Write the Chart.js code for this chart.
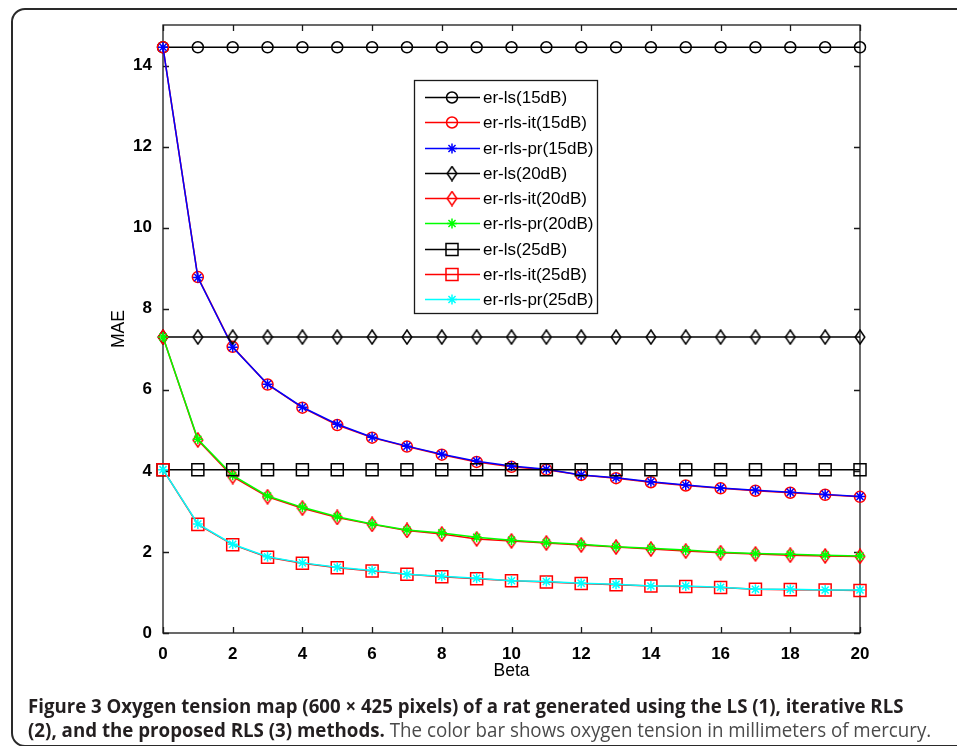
<!DOCTYPE html>
<html lang="en">
<head>
<meta charset="UTF-8">
<title>MAE vs Beta</title>
<style>
    html, body {
        margin: 0;
        padding: 0;
        background: #fff;
    }
    .frame {
        position: relative;
        width: 957px;
        height: 746px;
        overflow: hidden;
    }
    .border {
        position: absolute;
        left: 11px;
        top: 8px;
        width: 1000px;
        height: 739px;
        border: 2px solid #2a2a2a;
        border-radius: 14px;
        box-sizing: border-box;
    }
    #chart {
        position: absolute;
        left: 0;
        top: 0;
    }
    .caption {
        position: absolute;
        left: 28px;
        top: 694px;
        font-family: 'Open Sans', sans-serif;
        font-size: 19.5px;
        line-height: 24px;
        color: #231f20;
    }
    .caption div {
        white-space: nowrap;
        transform-origin: 0 0;
    }
    .caption b { font-weight: 700; }
    .caption span { color: #4a4a4a; font-weight: 400; }
</style>
</head>
<body>
<div class="frame">
    <div class="border"></div>
    <canvas id="chart" width="957" height="746"></canvas>
    <div class="caption">
        <div data-w="899"><b>Figure 3 Oxygen tension map (600 × 425 pixels) of a rat generated using the LS (1), iterative RLS</b></div>
        <div data-w="903"><b>(2), and the proposed RLS (3) methods.</b> <span>The color bar shows oxygen tension in millimeters of mercury.</span></div>
    </div>
</div>

<script src="https://cdn.jsdelivr.net/npm/chart.js"></script>
<script>
    // Data
    const beta = [0, 1, 2, 3, 4, 5, 6, 7, 8, 9, 10, 11, 12, 13, 14, 15, 16, 17, 18, 19, 20];
    const xTicks = [0, 2, 4, 6, 8, 10, 12, 14, 16, 18, 20];
    const yTicks = [0, 2, 4, 6, 8, 10, 12, 14];

    const ls15 = [14.45, 14.45, 14.45, 14.45, 14.45, 14.45, 14.45, 14.45, 14.45, 14.45, 14.45, 14.45, 14.45, 14.45, 14.45, 14.45, 14.45, 14.45, 14.45, 14.45, 14.45];
    const it15 = [14.45, 8.78, 7.06, 6.13, 5.56, 5.13, 4.82, 4.60, 4.40, 4.22, 4.10, 4.03, 3.90, 3.82, 3.72, 3.64, 3.57, 3.51, 3.46, 3.41, 3.36];
    const pr15 = [14.45, 8.77, 7.05, 6.14, 5.57, 5.15, 4.83, 4.61, 4.41, 4.24, 4.12, 4.04, 3.90, 3.83, 3.73, 3.65, 3.58, 3.52, 3.47, 3.42, 3.37];

    const ls20 = [7.30, 7.30, 7.30, 7.30, 7.30, 7.30, 7.30, 7.30, 7.30, 7.30, 7.30, 7.30, 7.30, 7.30, 7.30, 7.30, 7.30, 7.30, 7.30, 7.30, 7.30];
    const it20 = [7.30, 4.76, 3.86, 3.36, 3.08, 2.85, 2.68, 2.53, 2.44, 2.32, 2.27, 2.22, 2.17, 2.12, 2.07, 2.02, 1.98, 1.95, 1.92, 1.90, 1.89];
    const pr20 = [7.30, 4.78, 3.89, 3.38, 3.10, 2.87, 2.69, 2.54, 2.47, 2.36, 2.29, 2.23, 2.19, 2.13, 2.09, 2.05, 1.99, 1.96, 1.94, 1.92, 1.90];

    const ls25 = [4.03, 4.03, 4.03, 4.03, 4.03, 4.03, 4.03, 4.03, 4.03, 4.03, 4.03, 4.03, 4.03, 4.03, 4.03, 4.03, 4.03, 4.03, 4.03, 4.03, 4.03];
    const it25 = [4.03, 2.68, 2.18, 1.87, 1.72, 1.61, 1.53, 1.45, 1.39, 1.34, 1.29, 1.26, 1.22, 1.19, 1.16, 1.15, 1.12, 1.08, 1.07, 1.06, 1.05];
    const pr25 = [4.03, 2.69, 2.19, 1.88, 1.73, 1.62, 1.54, 1.45, 1.40, 1.35, 1.29, 1.27, 1.23, 1.20, 1.16, 1.16, 1.13, 1.08, 1.08, 1.06, 1.06];

    const labels = ['er-ls(15dB)', 'er-rls-it(15dB)', 'er-rls-pr(15dB)',
                    'er-ls(20dB)', 'er-rls-it(20dB)', 'er-rls-pr(20dB)',
                    'er-ls(25dB)', 'er-rls-it(25dB)', 'er-rls-pr(25dB)'];
    const values = [ls15, it15, pr15, ls20, it20, pr20, ls25, it25, pr25];

    // MATLAB style markers
    function makeDiamond(color) {
        const c = document.createElement('canvas');
        c.width = 12;
        c.height = 16;
        const g = c.getContext('2d');
        g.strokeStyle = color;
        g.lineWidth = 1.5;
        g.beginPath();
        g.moveTo(6, 1);
        g.lineTo(10.8, 8);
        g.lineTo(6, 15);
        g.lineTo(1.2, 8);
        g.closePath();
        g.stroke();
        return c;
    }

    const styles = [
        { color: '#000000', marker: 'circle', r: 5.5 },
        { color: '#ff0000', marker: 'circle', r: 5.5 },
        { color: '#0000ff', marker: 'star', r: 5 },
        { color: '#000000', marker: makeDiamond('#000000'), r: 7 },
        { color: '#ff0000', marker: makeDiamond('#ff0000'), r: 7 },
        { color: '#00ff00', marker: 'star', r: 5 },
        { color: '#000000', marker: 'rect', r: 8.5 },
        { color: '#ff0000', marker: 'rect', r: 8.5 },
        { color: '#00ffff', marker: 'star', r: 5 }
    ];

    const datasets = values.map((vals, i) => ({
        label: labels[i],
        data: beta.map((b, j) => ({ x: b, y: vals[j] })),
        borderColor: styles[i].color,
        backgroundColor: 'transparent',
        borderWidth: 1.5,
        pointStyle: styles[i].marker,
        pointRadius: styles[i].r,
        pointBorderColor: styles[i].color,
        pointBackgroundColor: 'transparent',
        pointBorderWidth: 1.5,
        tension: 0,
        clip: false,
        order: values.length - i   // later series on top, like MATLAB
    }));

    const FONT = "'Liberation Sans', Arial, sans-serif";

    // axes box, inward ticks and axis titles
    const axesBox = {
        id: 'axesBox',
        beforeDatasetsDraw(chart) {
            const { ctx, chartArea: a, scales } = chart;
            ctx.save();
            ctx.strokeStyle = '#1a1a1a';
            ctx.lineWidth = 1.3;
            ctx.strokeRect(a.left, a.top, a.right - a.left, a.bottom - a.top);
            ctx.beginPath();
            xTicks.forEach(v => {
                const px = Math.round(scales.x.getPixelForValue(v)) + 0.5;
                ctx.moveTo(px, a.bottom); ctx.lineTo(px, a.bottom - 6);
                ctx.moveTo(px, a.top); ctx.lineTo(px, a.top + 6);
            });
            yTicks.forEach(v => {
                const py = Math.round(scales.y.getPixelForValue(v)) + 0.5;
                ctx.moveTo(a.left, py); ctx.lineTo(a.left + 6, py);
                ctx.moveTo(a.right, py); ctx.lineTo(a.right - 6, py);
            });
            ctx.stroke();

            ctx.fillStyle = '#000';
            ctx.font = '17.5px ' + FONT;
            ctx.textAlign = 'center';
            ctx.textBaseline = 'middle';
            ctx.fillText('Beta', (a.left + a.right) / 2, 671);
            ctx.translate(119, (a.top + a.bottom) / 2);
            ctx.rotate(-Math.PI / 2);
            ctx.fillText('MAE', 0, 0);
            ctx.restore();
        }
    };

    // legend box inside the axes, MATLAB style
    const boxLegend = {
        id: 'boxLegend',
        afterDraw(chart) {
            const ctx = chart.ctx;
            const x0 = 414, y0 = 80, w = 183, h = 233;
            ctx.save();
            ctx.fillStyle = '#fff';
            ctx.fillRect(x0, y0, w, h);
            ctx.strokeStyle = '#1a1a1a';
            ctx.lineWidth = 1.3;
            ctx.strokeRect(x0 + 0.5, y0 + 0.5, w, h);
            ctx.font = '17px ' + FONT;
            ctx.textBaseline = 'middle';
            ctx.textAlign = 'left';
            labels.forEach((lab, i) => {
                const y = Math.round(97 + i * 25.25) + 0.5;
                const st = styles[i];
                ctx.strokeStyle = st.color;
                ctx.lineWidth = 1.5;
                ctx.beginPath();
                ctx.moveTo(425, y);
                ctx.lineTo(480, y);
                ctx.stroke();
                ctx.fillStyle = 'transparent';
                Chart.helpers.drawPoint(ctx, {
                    pointStyle: st.marker, radius: st.r, rotation: 0, borderWidth: 1.5
                }, 452, y);
                ctx.fillStyle = '#000';
                ctx.fillText(lab, 483, y + 1);
            });
            ctx.restore();
        }
    };

    new Chart(document.getElementById('chart'), {
        type: 'line',
        data: { datasets: datasets },
        options: {
            responsive: false,
            animation: false,
            layout: { padding: { left: 108, right: 97, top: 25, bottom: 63 } },
            plugins: {
                legend: { display: false },
                tooltip: { enabled: false }
            },
            scales: {
                x: {
                    type: 'linear',
                    min: 0,
                    max: 20,
                    afterBuildTicks: s => { s.ticks = xTicks.map(v => ({ value: v })); },
                    afterFit: s => { s.height = 50; },
                    grid: { display: false },
                    border: { display: false },
                    ticks: {
                        color: '#000',
                        padding: 3,
                        maxRotation: 0,
                        font: { family: FONT, size: 17, weight: 'bold' }
                    }
                },
                y: {
                    min: 0,
                    max: 15,
                    afterBuildTicks: s => { s.ticks = yTicks.map(v => ({ value: v })); },
                    afterFit: s => { s.width = 55; },
                    grid: { display: false },
                    border: { display: false },
                    ticks: {
                        color: '#000',
                        padding: 3,
                        font: { family: FONT, size: 17, weight: 'bold' }
                    }
                }
            }
        },
        plugins: [axesBox, boxLegend]
    });

    // squeeze caption lines to the width they have in the figure
    document.querySelectorAll('.caption div').forEach(d => {
        const target = +d.dataset.w;
        const inner = d.scrollWidth;
        d.style.transform = 'scaleX(' + (target / inner) + ')';
    });
</script>
</body>
</html>
